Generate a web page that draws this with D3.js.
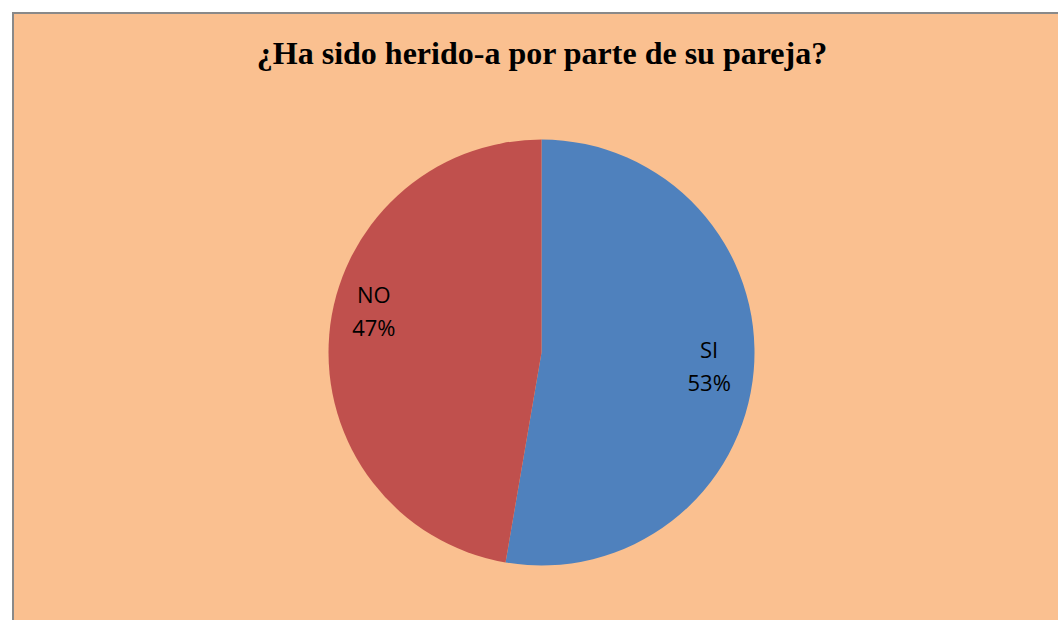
<!DOCTYPE html>
<html>
<head>
<meta charset="utf-8">
<script src="https://cdn.jsdelivr.net/npm/d3@7"></script>
<style>
  html, body { margin: 0; padding: 0; background: #ffffff; }
  svg { display: block; }
</style>
</head>
<body>
<svg id="chart" width="1058" height="620"></svg>
<script>
const TITLE = '¿Ha sido herido-a por parte de su pareja?';
const categories = ['SI', 'NO'];
const values = [52.7, 47.3];
const colors = ['#4F81BD', '#C0504D'];

const W = 1058, H = 620;
const CX = 541.5, CY = 352.5, R = 213;

const svg = d3.select('#chart');

// chart area with grey frame (runs off the right and bottom edges)
svg.append('rect')
  .attr('x', 13).attr('y', 13)
  .attr('width', W + 10).attr('height', H + 10)
  .attr('fill', '#FAC090')
  .attr('stroke', '#898989')
  .attr('stroke-width', 2);

svg.append('text')
  .attr('x', 542).attr('y', 64)
  .attr('text-anchor', 'middle')
  .attr('font-family', '"Liberation Serif", "Times New Roman", serif')
  .attr('font-weight', 'bold')
  .attr('font-size', 32)
  .attr('fill', '#000')
  .text(TITLE);

const pie = d3.pie().sort(null).value(d => d);
const arcs = pie(values);
const arc = d3.arc().innerRadius(0).outerRadius(R);
const labelArc = d3.arc().innerRadius(R * 0.79).outerRadius(R * 0.79);

const g = svg.append('g').attr('transform', `translate(${CX},${CY})`);

g.selectAll('path')
  .data(arcs)
  .join('path')
  .attr('d', arc)
  .attr('fill', (d, i) => colors[i]);

const labels = g.selectAll('text.lbl')
  .data(arcs)
  .join('text')
  .attr('class', 'lbl')
  .attr('text-anchor', 'middle')
  .attr('font-family', '"Open Sans", "Noto Sans", sans-serif')
  .attr('font-size', 22)
  .attr('fill', '#000')
  .attr('transform', d => {
    const [x, y] = labelArc.centroid(d);
    // the left label sits a bit higher than its slice centre (best-fit placement)
    const lift = d.index === 1 ? -26 : 0;
    return `translate(${x},${y + lift})`;
  });

labels.append('tspan')
  .attr('x', 0).attr('dy', '-0.4em')
  .text((d, i) => categories[i]);
labels.append('tspan')
  .attr('x', 0).attr('dy', '1.5em')
  .text((d, i) => d3.format('.0%')(values[i] / d3.sum(values)));
</script>
</body>
</html>
